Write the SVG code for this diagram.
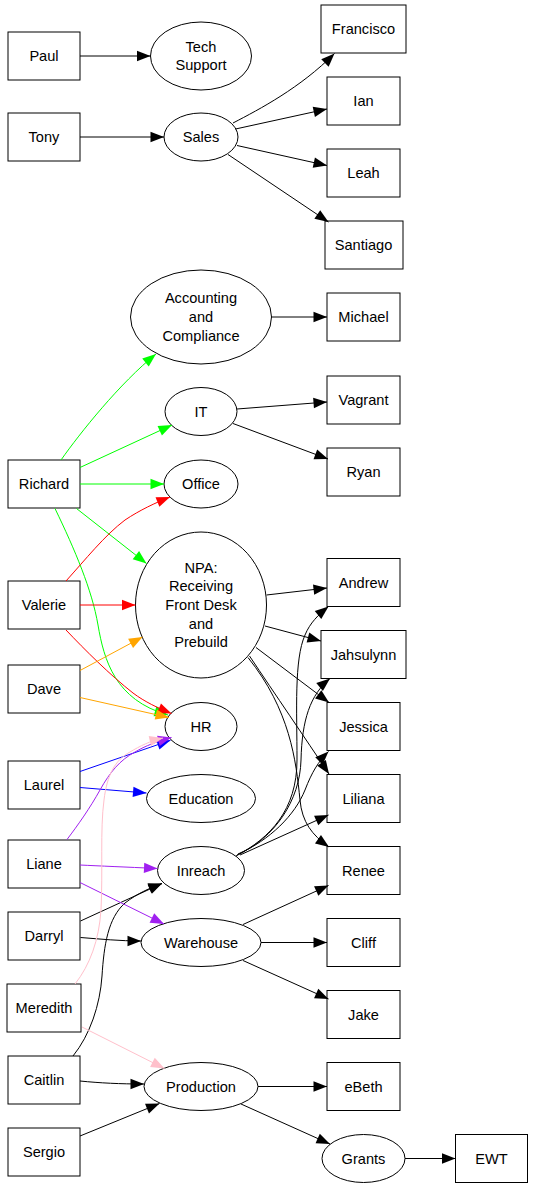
<svg xmlns="http://www.w3.org/2000/svg" width="533" height="1188" viewBox="0 0 533 1188">
<style>
.n rect,.n ellipse{fill:#fff;stroke:#000;stroke-width:1}
.n text{font-family:"Liberation Sans",Arial,sans-serif;font-size:14.6px;fill:#000;text-anchor:middle}
.e path{fill:none;stroke-width:1}
.k{stroke:#000;marker-end:url(#ak)}
.g{stroke:#00ff00;marker-end:url(#ag)}
.r{stroke:#ff0000;marker-end:url(#ar)}
.o{stroke:#ffa500;marker-end:url(#ao)}
.b{stroke:#0000ff;marker-end:url(#ab)}
.p{stroke:#a020f0;marker-end:url(#ap)}
.i{stroke:#ffc0cb;marker-end:url(#ai)}
</style>
<defs>
<marker id="ak" markerUnits="userSpaceOnUse" markerWidth="14" markerHeight="12" refX="13.5" refY="5.2" orient="auto" overflow="visible"><path d="M0,0 L13.5,5.2 L0,10.4 z" fill="#000"/></marker>
<marker id="ag" markerUnits="userSpaceOnUse" markerWidth="14" markerHeight="12" refX="13.5" refY="5.2" orient="auto" overflow="visible"><path d="M0,0 L13.5,5.2 L0,10.4 z" fill="#00ff00"/></marker>
<marker id="ar" markerUnits="userSpaceOnUse" markerWidth="14" markerHeight="12" refX="13.5" refY="5.2" orient="auto" overflow="visible"><path d="M0,0 L13.5,5.2 L0,10.4 z" fill="#ff0000"/></marker>
<marker id="ao" markerUnits="userSpaceOnUse" markerWidth="14" markerHeight="12" refX="13.5" refY="5.2" orient="auto" overflow="visible"><path d="M0,0 L13.5,5.2 L0,10.4 z" fill="#ffa500"/></marker>
<marker id="ab" markerUnits="userSpaceOnUse" markerWidth="14" markerHeight="12" refX="13.5" refY="5.2" orient="auto" overflow="visible"><path d="M0,0 L13.5,5.2 L0,10.4 z" fill="#0000ff"/></marker>
<marker id="ap" markerUnits="userSpaceOnUse" markerWidth="14" markerHeight="12" refX="13.5" refY="5.2" orient="auto" overflow="visible"><path d="M0,0 L13.5,5.2 L0,10.4 z" fill="#a020f0"/></marker>
<marker id="ai" markerUnits="userSpaceOnUse" markerWidth="14" markerHeight="12" refX="13.5" refY="5.2" orient="auto" overflow="visible"><path d="M0,0 L13.5,5.2 L0,10.4 z" fill="#ffc0cb"/></marker>
</defs>
<rect x="0" y="0" width="533" height="1188" fill="#fff"/>

<g id="nodes">
<g id="Paul" class="n"><rect x="8" y="32" width="72" height="48"/><text x="44" y="61">Paul</text></g>
<g id="Tony" class="n"><rect x="8" y="113" width="72" height="48"/><text x="44" y="142">Tony</text></g>
<g id="Richard" class="n"><rect x="8" y="460" width="72" height="48"/><text x="44" y="489">Richard</text></g>
<g id="Valerie" class="n"><rect x="8" y="581" width="72" height="48"/><text x="44" y="610">Valerie</text></g>
<g id="Dave" class="n"><rect x="8" y="665" width="72" height="48"/><text x="44" y="694">Dave</text></g>
<g id="Laurel" class="n"><rect x="8" y="761" width="72" height="48"/><text x="44" y="790">Laurel</text></g>
<g id="Liane" class="n"><rect x="8" y="840" width="72" height="48"/><text x="44" y="869">Liane</text></g>
<g id="Darryl" class="n"><rect x="8" y="912" width="72" height="48"/><text x="44" y="941">Darryl</text></g>
<g id="Meredith" class="n"><rect x="7" y="984" width="74" height="48"/><text x="44" y="1013">Meredith</text></g>
<g id="Caitlin" class="n"><rect x="8" y="1056" width="72" height="48"/><text x="44" y="1085">Caitlin</text></g>
<g id="Sergio" class="n"><rect x="8" y="1128" width="72" height="48"/><text x="44" y="1157">Sergio</text></g>

<g id="TechSupport" class="n"><ellipse cx="201" cy="56" rx="50.5" ry="34"/><text x="201" y="51.7">Tech</text><text x="201" y="70.3">Support</text></g>
<g id="Sales" class="n"><ellipse cx="201" cy="137" rx="37" ry="24"/><text x="201" y="142">Sales</text></g>
<g id="Accounting" class="n"><ellipse cx="201" cy="317" rx="70.5" ry="47"/><text x="201" y="303.4">Accounting</text><text x="201" y="322">and</text><text x="201" y="340.6">Compliance</text></g>
<g id="IT" class="n"><ellipse cx="201" cy="411.5" rx="36" ry="24"/><text x="201" y="416.5">IT</text></g>
<g id="Office" class="n"><ellipse cx="201" cy="484" rx="37" ry="24"/><text x="201" y="489">Office</text></g>
<g id="NPA" class="n"><ellipse cx="201" cy="605" rx="65.5" ry="73"/><text x="201" y="572.8">NPA:</text><text x="201" y="591.4">Receiving</text><text x="201" y="610">Front Desk</text><text x="201" y="628.6">and</text><text x="201" y="647.2">Prebuild</text></g>
<g id="HR" class="n"><ellipse cx="201" cy="726.5" rx="36" ry="24"/><text x="201" y="731.5">HR</text></g>
<g id="Education" class="n"><ellipse cx="201" cy="798.5" rx="54.5" ry="24"/><text x="201" y="803.5">Education</text></g>
<g id="Inreach" class="n"><ellipse cx="201" cy="870.5" rx="43.5" ry="24"/><text x="201" y="875.5">Inreach</text></g>
<g id="Warehouse" class="n"><ellipse cx="201" cy="942.5" rx="60" ry="24"/><text x="201" y="947.5">Warehouse</text></g>
<g id="Production" class="n"><ellipse cx="201" cy="1086.5" rx="57" ry="24"/><text x="201" y="1091.5">Production</text></g>
<g id="Grants" class="n"><ellipse cx="363.5" cy="1158.5" rx="41.5" ry="24"/><text x="363.5" y="1163.5">Grants</text></g>

<g id="Francisco" class="n"><rect x="321" y="5" width="85" height="48"/><text x="363.5" y="34">Francisco</text></g>
<g id="Ian" class="n"><rect x="327" y="77" width="73" height="48"/><text x="363.5" y="106">Ian</text></g>
<g id="Leah" class="n"><rect x="327" y="149" width="73" height="48"/><text x="363.5" y="178">Leah</text></g>
<g id="Santiago" class="n"><rect x="325" y="221" width="78" height="48"/><text x="363.5" y="250">Santiago</text></g>
<g id="Michael" class="n"><rect x="327" y="293" width="73" height="48"/><text x="363.5" y="322">Michael</text></g>
<g id="Vagrant" class="n"><rect x="327" y="376" width="73" height="48"/><text x="363.5" y="405">Vagrant</text></g>
<g id="Ryan" class="n"><rect x="327" y="448" width="73" height="48"/><text x="363.5" y="477">Ryan</text></g>
<g id="Andrew" class="n"><rect x="327" y="558.5" width="73" height="48"/><text x="363.5" y="587.5">Andrew</text></g>
<g id="Jahsulynn" class="n"><rect x="321" y="630.5" width="85" height="48"/><text x="363.5" y="659.5">Jahsulynn</text></g>
<g id="Jessica" class="n"><rect x="327" y="702.5" width="73" height="48"/><text x="363.5" y="731.5">Jessica</text></g>
<g id="Liliana" class="n"><rect x="327" y="774.5" width="73" height="48"/><text x="363.5" y="803.5">Liliana</text></g>
<g id="Renee" class="n"><rect x="327" y="846.5" width="73" height="48"/><text x="363.5" y="875.5">Renee</text></g>
<g id="Cliff" class="n"><rect x="327" y="918.5" width="73" height="48"/><text x="363.5" y="947.5">Cliff</text></g>
<g id="Jake" class="n"><rect x="327" y="990.5" width="73" height="48"/><text x="363.5" y="1019.5">Jake</text></g>
<g id="eBeth" class="n"><rect x="327" y="1062.5" width="73" height="48"/><text x="363.5" y="1091.5">eBeth</text></g>
<g id="EWT" class="n"><rect x="455.5" y="1134.5" width="72" height="48"/><text x="491.5" y="1163.5">EWT</text></g>
</g>

<g id="connectors" class="e">
<path class="k" d="M80,56 L150.5,56"/>
<path class="k" d="M80,137 L164,137"/>
<path class="k" d="M233,123 C260,109 300,88 334.5,53.5"/>
<path class="k" d="M235.5,129 L327,109"/>
<path class="k" d="M237,145.5 L327,165.5"/>
<path class="k" d="M228,154.5 L328.5,222"/>
<path class="k" d="M271.5,317 L327,317"/>
<path class="k" d="M237,409 L327,402"/>
<path class="k" d="M233,423.5 L328,459"/>
<path class="k" d="M266.5,595 L327,588"/>
<path class="k" d="M265,626 L321,641"/>
<path class="k" d="M256,647.5 L329,702.5"/>
<path class="k" d="M249.5,656 C275,694 305,738 329,774"/>
<path class="k" d="M248,657.5 C290,710 296,760 300,800 C302,822 312,835 329,847"/>
<path class="k" d="M236,856 C270,838 297,810 297,760 C297,710 294,660 305,635 C310,623 318,615 328.5,606.5"/>
<path class="k" d="M237,855 C275,838 300,800 301,760 C302,720 310,695 330,678.5"/>
<path class="k" d="M238,854 C270,840 295,815 305,790 C312,772 318,762 328.5,751.5"/>
<path class="k" d="M240,855 L328.5,815"/>
<path class="k" d="M80.5,921 L162,883.5"/>
<path class="k" d="M80.5,937.5 C100,939 120,941 141,941"/>
<path class="k" d="M73,1056 C90,1035 100,1005 102,976 C104,945 108,918 125,903 C138,893 150,888 162,883.5"/>
<path class="k" d="M80,1081 C100,1083 120,1084 144,1084"/>
<path class="k" d="M80,1136 L159.5,1103.5"/>
<path class="k" d="M243,924.5 L328.5,885.5"/>
<path class="k" d="M261,942.5 L327,942.5"/>
<path class="k" d="M243,960.5 L328.5,999"/>
<path class="k" d="M258,1086.5 L327,1086.5"/>
<path class="k" d="M241,1104 L330,1144"/>
<path class="k" d="M405,1158.5 L455.5,1158.5"/>

<path class="g" d="M61,460 C80,433 120,383 156,354"/>
<path class="g" d="M80,467.5 L172,425"/>
<path class="g" d="M80,484 L164,484"/>
<path class="g" d="M76.5,508.5 L146.5,563.5"/>
<path class="g" d="M55,508.5 C75,550 92,590 98,625 C104,660 115,700 168,715"/>

<path class="r" d="M66,581 C85,560 105,535 125,520 C140,510 155,503 170,497"/>
<path class="r" d="M80,605 L135.5,605"/>
<path class="r" d="M66,630 C85,650 110,675 133,693 C145,702 158,708 171.5,713.5"/>

<path class="o" d="M80,670.5 L142.5,637"/>
<path class="o" d="M80,697.5 L169,717.5"/>

<path class="b" d="M80,771.5 L170.5,740.3"/>
<path class="b" d="M80,787.5 L146.5,793"/>

<path class="p" d="M67,839.5 C78,825 90,808 100,790 C110,772 120,760 135,752 C145,746 158,741 171.5,737.5"/>
<path class="p" d="M80,865 C100,866 125,867 157.5,868.5"/>
<path class="p" d="M80,882.5 L164,924"/>

<path class="i" d="M75,984 C90,965 99,940 101,910 C103,870 100,830 104,800 C107,775 115,760 130,752 C140,746 150,741 163,738"/>
<path class="i" d="M82,1027 L164.5,1068.5"/>
</g>
</svg>
